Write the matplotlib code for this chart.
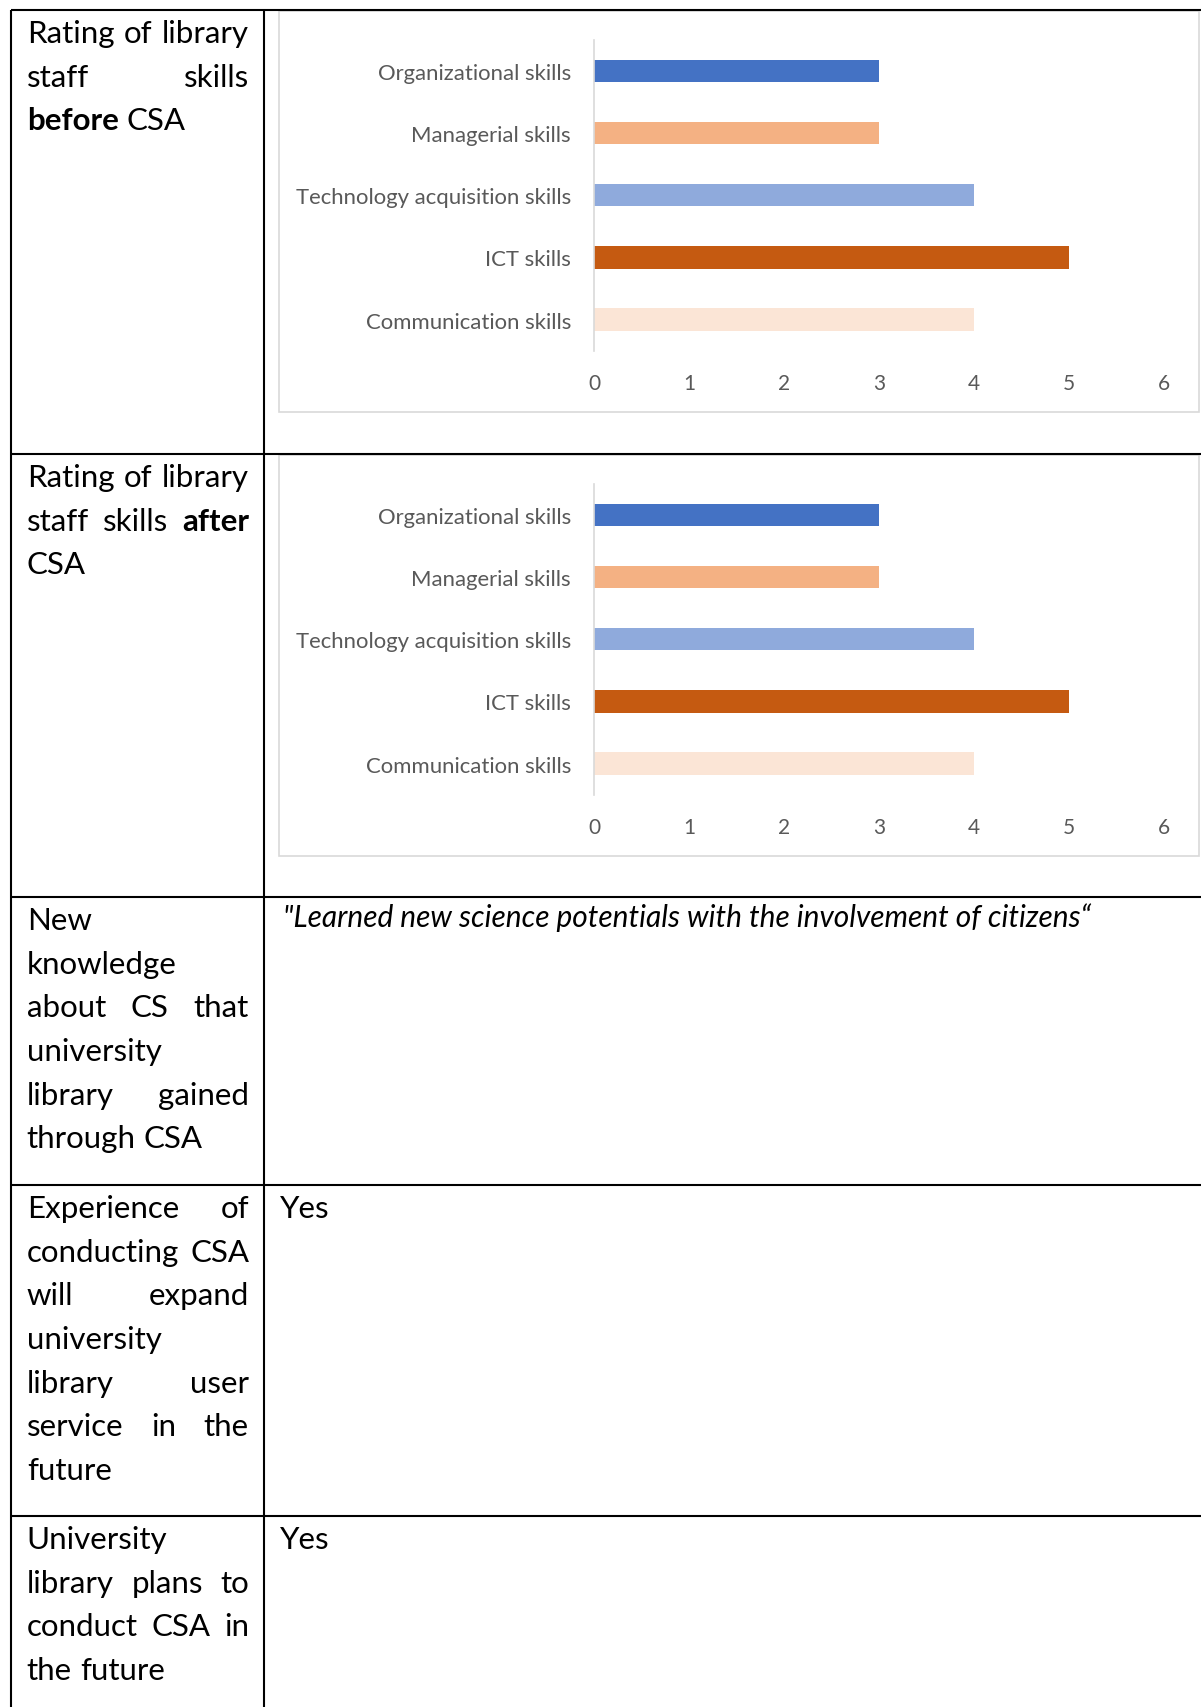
import matplotlib
matplotlib.use("Agg")
import matplotlib.pyplot as plt
from matplotlib.patches import Rectangle

# data
skills = ["Organizational skills", "Managerial skills", "Technology acquisition skills",
          "ICT skills", "Communication skills"]
rating_before = [3, 3, 4, 5, 4]
rating_after = [3, 3, 4, 5, 4]
bar_colors = ["#4472C4", "#F4B183", "#8FAADC", "#C55A11", "#FBE5D6"]
x_ticks = [0, 1, 2, 3, 4, 5, 6]

left_cells = [
    ["Rating of library", "staff skills", "before CSA"],
    ["Rating of library", "staff skills after", "CSA"],
    ["New", "knowledge", "about CS that", "university", "library gained", "through CSA"],
    ["Experience of", "conducting CSA", "will expand", "university", "library user",
     "service in the", "future"],
    ["University", "library plans to", "conduct CSA in", "the future"],
]
bold_words = {"before", "after"}
quote = "\"Learned new science potentials with the involvement of citizens\u201c"
answers = ["Yes", "Yes"]

W, H = 1201, 1708
FONT = "Lato"
FS = 22.5        # table text, pt
LINE = 43.6      # line spacing, px
row_tops = [11, 455, 898, 1186, 1517]
col_x = [10.5, 264]
X0, X1 = 26.8, 249

fig = plt.figure(figsize=(W / 100, H / 100), dpi=100)
bg = fig.add_axes([0, 0, 1, 1])
bg.set_xlim(0, W)
bg.set_ylim(H, 0)
bg.axis("off")

# table grid
for y in row_tops:
    bg.plot([col_x[0], W], [y, y], color="black", lw=1.5, solid_capstyle="butt")
for x in col_x:
    bg.plot([x, x], [row_tops[0], H], color="black", lw=1.5, solid_capstyle="butt")

renderer = fig.canvas.get_renderer()


def text_w(t):
    return t.get_window_extent(renderer).width


probe = bg.text(0, 0, "x x", fontsize=FS, family=FONT)
probe2 = bg.text(0, 0, "xx", fontsize=FS, family=FONT)
space_w = text_w(probe) - text_w(probe2)
probe.remove()
probe2.remove()

for top, lines in zip(row_tops, left_cells):
    for i, line in enumerate(lines):
        y = top + 32.3 + i * LINE
        words = line.split()
        objs = [bg.text(X0, y, w, fontsize=FS, family=FONT, va="baseline",
                        fontweight="bold" if w in bold_words else "normal")
                for w in words]
        widths = [text_w(o) for o in objs]
        last = i == len(lines) - 1
        if len(words) > 1 and not last:
            gap = (X1 - X0 - sum(widths)) / (len(words) - 1)
        else:
            gap = space_w
        x = X0
        for o, w in zip(objs, widths):
            o.set_x(x)
            x += w + gap

# right column text
bg.text(283, 927, quote, fontsize=21.5, family=FONT, style="italic", va="baseline")
for top, ans in zip(row_tops[3:], answers):
    bg.text(280, top + 32.3, ans, fontsize=FS, family=FONT, va="baseline")


def bar_chart(frame_top, values):
    bg.add_patch(Rectangle((279, frame_top), 920, 401, fill=False,
                           edgecolor="#D9D9D9", lw=1.2))
    ax_top = frame_top + 29
    ax = fig.add_axes([594 / W, 1 - (ax_top + 311) / H, 569.5 / W, 311 / H])
    ax.set_facecolor("none")
    pos = list(range(len(skills)))
    ax.barh(pos, values, height=0.36, color=bar_colors)
    ax.set_ylim(len(skills) - 0.5, -0.5)
    ax.set_xlim(0, 6)
    ax.set_yticks(pos)
    ax.set_yticklabels(skills)
    ax.set_xticks(x_ticks)
    for s in ["top", "right", "bottom"]:
        ax.spines[s].set_visible(False)
    ax.spines["left"].set_color("#D9D9D9")
    ax.spines["left"].set_linewidth(1.2)
    ax.tick_params(axis="y", length=0, pad=16.5, labelsize=15.9, labelcolor="#595959")
    ax.tick_params(axis="x", length=0, pad=16, labelsize=15, labelcolor="#595959")
    for lab in ax.get_xticklabels() + ax.get_yticklabels():
        lab.set_family(FONT)
    return ax


bar_chart(11.7, rating_before)
bar_chart(455.7, rating_after)

fig.savefig("out.png", dpi=100)
